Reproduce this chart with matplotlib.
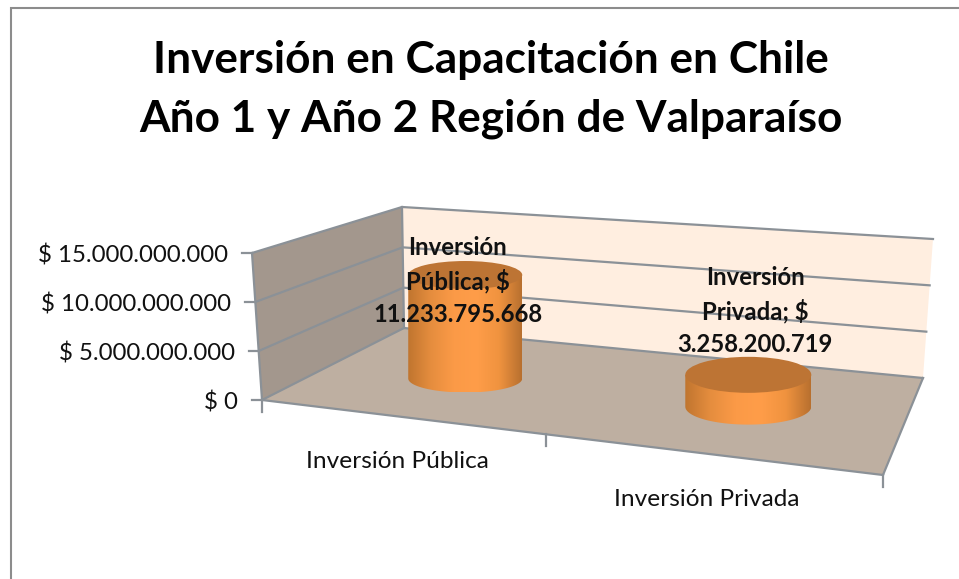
import numpy as np
import matplotlib
matplotlib.use('Agg')
import matplotlib.pyplot as plt
from matplotlib.patches import Polygon, Ellipse, PathPatch
from matplotlib.path import Path
from matplotlib.colors import LinearSegmentedColormap

plt.rcParams['font.family'] = ['Lato', 'DejaVu Sans']

# Data
title_lines = ['Inversión en Capacitación en Chile', 'Año 1 y Año 2 Región de Valparaíso']
categories = ['Inversión Pública', 'Inversión Privada']
values = [11233795668, 3258200719]
axis_ticks = [0, 5000000000, 10000000000, 15000000000]
axis_max = 15000000000

# Projected box corners, in image pixels: (bottom x, bottom y, top x, top y)
FRONT_LEFT = (262, 400, 252, 253)
FRONT_RIGHT = (883, 475, 868, 310)
BACK_LEFT = (404, 328, 402, 207)
BACK_RIGHT = (923, 378, 933, 239)

WALL_LEFT = '#a3978d'
WALL_BACK = '#ffeee0'
FLOOR = '#beafa1'
LINE = '#8b9197'
TEXT = '#111111'
CAP = '#bd7434'

# Bars on the floor: position along the axis, depth, and drawn radii
BAR_U = [0.232, 0.725]
BAR_D = [0.5, 0.53]
BAR_RX = [57, 63]
BAR_RY = [14, 18]

body = LinearSegmentedColormap.from_list(
    'body', ['#c0752f', '#e58d3e', '#fb9a47', '#ff9d49', '#f0933f', '#b8702f'])


def project(u, d, value):
    """Map axis position u, depth d (0 front, 1 back) and value to pixels."""
    w = value / axis_max
    front = [(1 - u) * a + u * b for a, b in zip(FRONT_LEFT, FRONT_RIGHT)]
    back = [(1 - u) * a + u * b for a, b in zip(BACK_LEFT, BACK_RIGHT)]
    c = [(1 - d) * a + d * b for a, b in zip(front, back)]
    return c[0] + w * (c[2] - c[0]), c[1] + w * (c[3] - c[1])


def draw_cylinder(ax, u, d, value, rx, ry):
    x, y0 = project(u, d, 0)
    _, y1 = project(u, d, value)

    # side: rectangle plus the lower half of the base ellipse
    t = np.linspace(0, np.pi, 60)
    verts = [(x - rx, y1)] + [(x + rx, y1)]
    verts += list(zip(x + rx * np.cos(t), y0 + ry * np.sin(t)))
    verts.append((x - rx, y1))
    codes = [Path.MOVETO] + [Path.LINETO] * (len(verts) - 2) + [Path.CLOSEPOLY]
    side = PathPatch(Path(verts, codes), facecolor='none', edgecolor='none')
    ax.add_patch(side)

    gradient = np.linspace(0, 1, 256).reshape(1, -1)
    im = ax.imshow(gradient, cmap=body, aspect='auto', zorder=3,
                   extent=(x - rx, x + rx, y0 + ry, y1 - ry))
    im.set_clip_path(side)

    ax.add_patch(Ellipse((x, y1), 2 * rx, 2 * ry, facecolor=CAP, edgecolor='none', zorder=4))


fig = plt.figure(figsize=(9.59, 5.79), dpi=100)
ax = fig.add_axes([0, 0, 1, 1])

# Walls and floor
ax.add_patch(Polygon([project(0, 1, 0), project(1, 1, 0), project(1, 1, axis_max), project(0, 1, axis_max)],
                     facecolor=WALL_BACK, edgecolor='none', zorder=1))
ax.add_patch(Polygon([project(0, 0, 0), project(0, 1, 0), project(0, 1, axis_max), project(0, 0, axis_max)],
                     facecolor=WALL_LEFT, edgecolor='none', zorder=1))
ax.add_patch(Polygon([project(0, 0, 0), project(1, 0, 0), project(1, 1, 0), project(0, 1, 0)],
                     facecolor=FLOOR, edgecolor='none', zorder=1))

# Gridlines around the walls, ticks and value labels
for tick in axis_ticks:
    pts = [project(0, 0, tick), project(0, 1, tick), project(1, 1, tick)]
    ax.plot(*zip(*pts), color=LINE, lw=1.6, zorder=2, solid_joinstyle='miter')
    x, y = pts[0]
    ax.plot([x - 10, x], [y, y], color=LINE, lw=1.6, zorder=2)
    label = '$ ' + f'{tick:,}'.replace(',', '.') if tick else '$ 0'
    ax.text(x - 24, y + 2.5, label, ha='right', va='center', fontsize=17.3, color=TEXT, zorder=5)

# Box edges
edges = [[project(0, 0, 0), project(0, 0, axis_max)],
         [project(0, 1, 0), project(0, 1, axis_max)],
         [project(0, 0, 0), project(1, 0, 0)],
         [project(1, 0, 0), project(1, 1, 0)]]
for edge in edges:
    ax.plot(*zip(*edge), color=LINE, lw=1.6, zorder=2)

# Category ticks along the front edge
for u in [0, 0.457, 1]:
    x, y = project(u, 0, 0)
    ax.plot([x, x], [y, y + 12], color=LINE, lw=1.6, zorder=2)

for name, value, u, d, rx, ry in zip(categories, values, BAR_U, BAR_D, BAR_RX, BAR_RY):
    draw_cylinder(ax, u, d, value, rx, ry)

# Category labels
ax.text(397.5, 462, categories[0], ha='center', va='center', fontsize=17.6, color=TEXT)
ax.text(707, 500, categories[1], ha='center', va='center', fontsize=17.6, color=TEXT)

# Data labels
label_pos = [(458, 281), (755, 311)]
for name, value, (x, y) in zip(categories, values, label_pos):
    first, second = name.split(' ')
    text = f'{first}\n{second}; $\n' + f'{value:,}'.replace(',', '.')
    ax.text(x, y, text, ha='center', va='center', fontsize=17.2, fontweight='bold',
            color=TEXT, linespacing=1.5, zorder=6)

# Title
for line, y in zip(title_lines, [60, 119]):
    ax.text(490.5, y, line, ha='center', va='center', fontsize=31.8, fontweight='bold', color='black')

# Outer chart border, only top and left show in the crop
ax.plot([959, 11, 11], [7.5, 7.5, 579], color='#8c8c8c', lw=1.5, zorder=7, solid_joinstyle='miter')

ax.set_xlim(0, 959)
ax.set_ylim(579, 0)
ax.axis('off')

fig.savefig('out.png', dpi=100)
plt.close(fig)
